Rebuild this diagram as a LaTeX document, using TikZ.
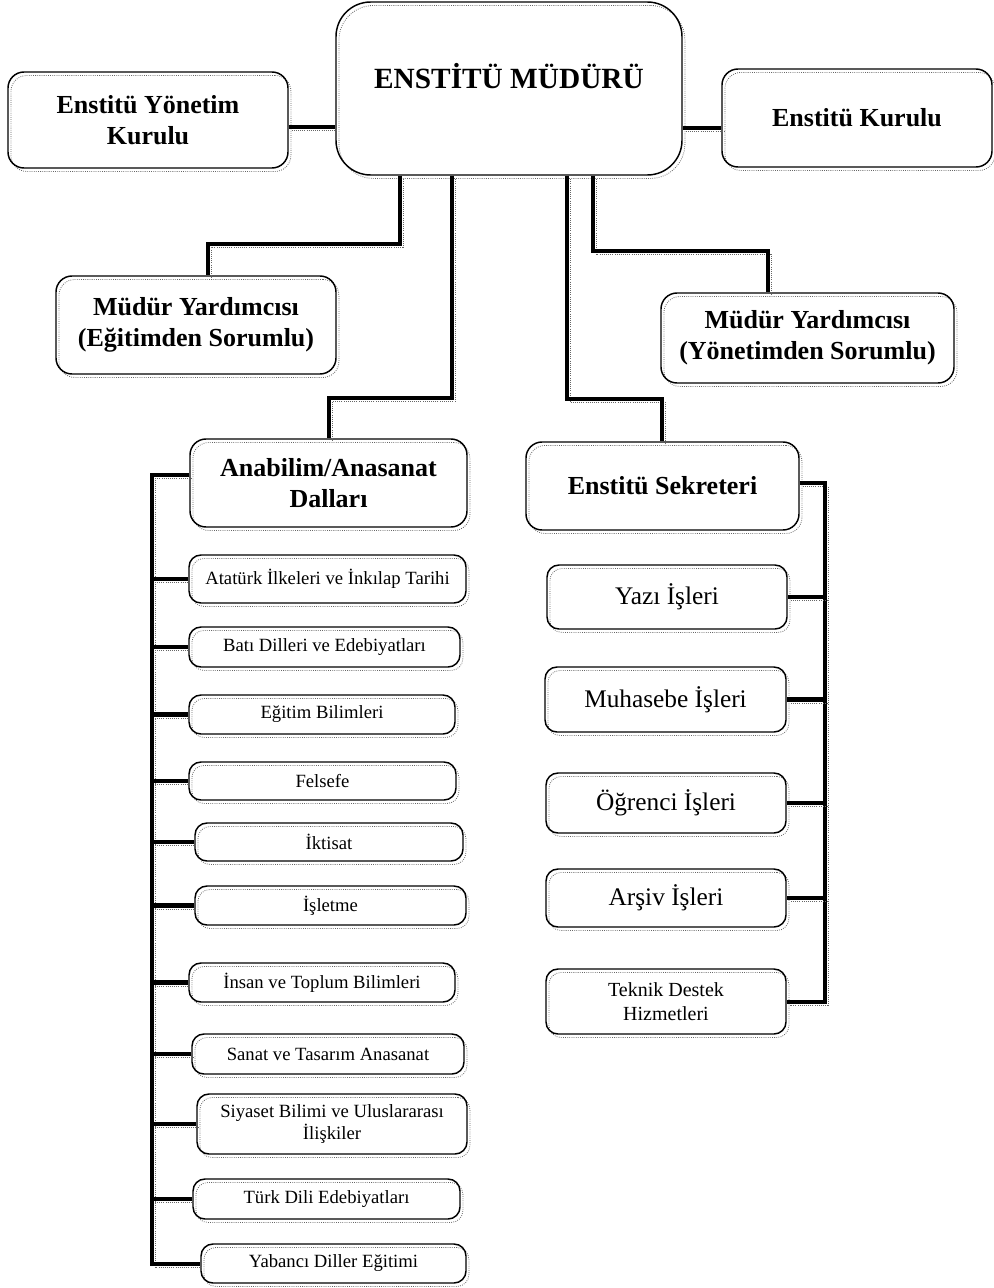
\documentclass[tikz,border=0pt]{standalone}
\usepackage{fontspec}
\setmainfont{Liberation Serif}
% box from corner (x1,y1) to (x2,y2), in pixel-like units
\newcommand\orgbox[7]{%
  \node[#6, minimum width={(#4-#2)*0.75pt}, minimum height={(#5-#3)*0.75pt}]
    (#1) at ({(#2+#4)/2},{(#3+#5)/2}) {#7};}
\begin{document}
\begin{tikzpicture}[x=0.75pt,y=-0.75pt,
  dotshade/.style={preaction={draw=black!60, densely dotted, line width=0.6pt,
      transform canvas={shift={(2.2pt,-2.6pt)}}}},
  obox/.style={dotshade, draw, line width=1.1pt, rounded corners=9pt, inner sep=2pt, align=center},
  headfont/.style={font=\fontsize{19.5}{23.5}\selectfont\bfseries},
  unitfont/.style={font=\fontsize{19}{22}\selectfont},
  deptfont/.style={font=\fontsize{14}{17}\selectfont},
  conn/.style={dotshade, draw, line width=3.6pt, line join=miter},
  thinconn/.style={conn, line width=2.4pt}]
\useasboundingbox (0,0) rectangle (994,1288);

% top level
\orgbox{dir}{336}{2}{682}{175}{obox, rounded corners=26pt}{}
\node[font=\fontsize{22}{26}\selectfont\bfseries] (dirlabel) at (509,76) {ENSTİTÜ MÜDÜRÜ};
\orgbox{eyk}{8}{72}{288}{168}{obox, rounded corners=12pt, headfont}{Enstitü Yönetim\\Kurulu}
\orgbox{ek}{722}{69}{992}{167}{obox, rounded corners=12pt, headfont}{Enstitü Kurulu}

% second level
\orgbox{my1}{56}{276}{336}{374}{obox, rounded corners=12pt, headfont}{Müdür Yardımcısı\\(Eğitimden Sorumlu)}
\orgbox{my2}{661}{293}{954}{383}{obox, rounded corners=12pt, headfont}{Müdür Yardımcısı\\(Yönetimden Sorumlu)}
\orgbox{ana}{190}{439}{467}{527}{obox, rounded corners=12pt, headfont}{Anabilim/Anasanat\\Dalları}
\orgbox{sek}{526}{442}{799}{530}{obox, rounded corners=12pt, headfont}{Enstitü Sekreteri}

% departments
\orgbox{atat}{189}{555}{466}{603}{obox, deptfont}{Atatürk İlkeleri ve İnkılap Tarihi}
\orgbox{bati}{189}{627}{460}{667}{obox, deptfont}{Batı Dilleri ve Edebiyatları}
\orgbox{egb}{189}{695}{455}{734}{obox, deptfont}{Eğitim Bilimleri}
\orgbox{fel}{189}{762}{456}{800}{obox, deptfont}{Felsefe}
\orgbox{ikt}{195}{823}{463}{861}{obox, deptfont}{İktisat}
\orgbox{isl}{195}{886}{466}{925}{obox, deptfont}{İşletme}
\orgbox{ins}{189}{963}{455}{1002}{obox, deptfont}{İnsan ve Toplum Bilimleri}
\orgbox{san}{192}{1034}{464}{1074}{obox, deptfont}{Sanat ve Tasarım Anasanat}
\orgbox{siy}{197}{1094}{467}{1154}{obox, deptfont}{Siyaset Bilimi ve Uluslararası\\İlişkiler}
\orgbox{tdl}{193}{1179}{460}{1219}{obox, deptfont}{Türk Dili Edebiyatları}
\orgbox{yde}{201}{1244}{466}{1283}{obox, deptfont}{Yabancı Diller Eğitimi}

% secretariat units
\orgbox{yazi}{547}{565}{787}{629}{obox, unitfont}{Yazı İşleri}
\orgbox{muh}{545}{667}{786}{732}{obox, unitfont}{Muhasebe İşleri}
\orgbox{ogr}{546}{773}{786}{833}{obox, unitfont}{Öğrenci İşleri}
\orgbox{ars}{546}{869}{786}{927}{obox, unitfont}{Arşiv İşleri}
\orgbox{tek}{546}{969}{786}{1034}{obox, font=\fontsize{15}{18}\selectfont}{Teknik Destek\\Hizmetleri}

% connectors: boards beside the director
\coordinate (hl) at (0,127);
\coordinate (hr) at (0,128);
\draw[conn] (eyk.east |- hl) -- (dir.west |- hl);
\draw[conn] (dir.east |- hr) -- (ek.west |- hr);

% connectors: director downwards
\coordinate (e1a) at (400,244); \coordinate (e1b) at (208,244);
\draw[conn] (e1a |- dir.south) -- (e1a) -- (e1b) -- (e1b |- my1.north);
\coordinate (e2a) at (452,398); \coordinate (e2b) at (329,398);
\draw[conn] (e2a |- dir.south) -- (e2a) -- (e2b) -- (e2b |- ana.north);
\coordinate (e3a) at (567,399); \coordinate (e3b) at (662,399);
\draw[conn] (e3a |- dir.south) -- (e3a) -- (e3b) -- (e3b |- sek.north);
\coordinate (e4a) at (593,251); \coordinate (e4b) at (768,251);
\draw[conn] (e4a |- dir.south) -- (e4a) -- (e4b) -- (e4b |- my2.north);

% left spine for departments
\coordinate (ls) at (152,475); \coordinate (lsb) at (152,1264);
\draw[conn] (ana.west |- ls) -- (ls) -- (lsb) -- (yde.west |- lsb);
\foreach \n in {atat,bati,egb,fel,ikt,isl,ins,san,siy,tdl}
  \draw[conn] (ls |- \n.west) -- (\n.west);

% right spine for secretariat units
\coordinate (rs) at (825,483); \coordinate (rsb) at (825,1002);
\draw[conn] (sek.east |- rs) -- (rs) -- (rsb) -- (tek.east |- rsb);
\draw[thinconn] (rs |- yazi.east) -- (yazi.east);
\draw[conn] (rs |- muh.east) -- (muh.east);
\draw[thinconn] (rs |- ogr.east) -- (ogr.east);
\draw[conn] (rs |- ars.east) -- (ars.east);
\end{tikzpicture}
\end{document}
